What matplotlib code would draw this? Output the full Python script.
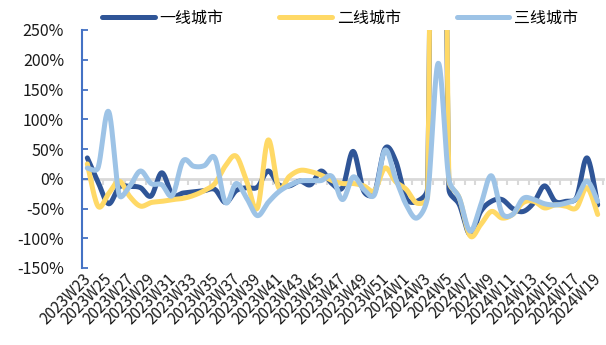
import numpy as np
import matplotlib.pyplot as plt

plt.rcParams['font.family'] = ['Noto Sans CJK SC', 'DejaVu Sans']

# 周次
weeks = [f'2023W{w}' for w in range(23, 53)] + [f'2024W{w}' for w in range(1, 20)]

# 同比增速（%）
tier1 = [35, -5, -42, -14, -13, -15, -29, 10, -27, -24,
         -22, -20, -18, -40, -20, -15, -14, 13, -10, -12,
         -4, -10, 13, -8, -15, 46, -21, -24, 51, 30,
         -33, -38, -15, 1700, -15, -44, -94, -55, -38, -35,
         -50, -55, -40, -12, -38, -38, -32, 35, -44]
tier2 = [25, -46, -25, -4, -30, -46, -40, -38, -35, -33,
         -28, -20, -8, 22, 38, -5, -49, 65, -15, 4,
         14, 12, 6, -3, -8, -8, -12, -20, 18, -5,
         -18, -41, -30, 1900, 0, -33, -96, -77, -55, -66,
         -60, -40, -38, -49, -44, -46, -49, -15, -60]
tier3 = [18, 18, 113, -27, -12, 13, -8, -10, -28, 30,
         21, 22, 35, -40, -8, -33, -62, -40, -22, -11,
         -4, -3, -3, 4, -35, 3, -18, -27, 48, 0,
         -44, -66, -30, 194, 0, -33, -88, -44, 5, -58,
         -60, -33, -35, -42, -44, -41, -33, -4, -38]

series = [('一线城市', tier1, '#2F5597'),
          ('二线城市', tier2, '#FFD966'),
          ('三线城市', tier3, '#9DC3E6')]


def smooth(y, kx=10.63, ky=0.596, n=24):
    """类似Excel平滑线：三次贝塞尔，控制柄不超过相邻段长的一半"""
    p = np.column_stack([np.arange(len(y)) * kx, np.asarray(y, float) * ky])
    m = len(p)
    t = np.linspace(0, 1, n)[1:, None]
    out = [p[:1]]
    for i in range(m - 1):
        p0, p1, p2, p3 = p[max(i - 1, 0)], p[i], p[i + 1], p[min(i + 2, m - 1)]
        seg = np.hypot(*(p2 - p1))
        a1 = (p2 - p0) / 6
        a2 = (p3 - p1) / 6
        for a in (a1, a2):
            ln = np.hypot(*a)
            if ln > seg / 2:
                a *= seg / 2 / ln
        c1, c2 = p1 + a1, p2 - a2
        b = ((1 - t) ** 3 * p1 + 3 * (1 - t) ** 2 * t * c1
             + 3 * (1 - t) * t ** 2 * c2 + t ** 3 * p2)
        out.append(b)
    q = np.vstack(out)
    return q[:, 0] / kx, q[:, 1] / ky


fig = plt.figure(figsize=(6.06, 3.45), dpi=100)
ax = fig.add_axes([82 / 606, 1 - 268 / 345, 521 / 606, 238 / 345])

for name, vals, color in series:
    xs, ys = smooth(vals)
    ax.plot(xs, ys, color=color, lw=3.6, label=name,
            solid_capstyle='round', solid_joinstyle='round')

ax.set_xlim(-0.5, len(weeks) - 0.5)
ax.set_ylim(-150, 250)
ax.set_yticks(range(-150, 251, 50))
ax.set_yticklabels([f'{v}%' for v in range(-150, 251, 50)])

ax.set_xticks(range(0, len(weeks), 2))
ax.set_xticklabels(weeks[::2], rotation=45, ha='right', va='center_baseline',
                   rotation_mode='anchor')

for s in ['top', 'right', 'bottom']:
    ax.spines[s].set_visible(False)
ax.spines['left'].set_color('#4472C4')
ax.spines['left'].set_linewidth(1.5)
ax.tick_params(axis='y', direction='in', length=4, width=1.3, color='#4472C4',
               labelsize=11.5, labelcolor='#1a1a1a', pad=13)
ax.tick_params(axis='x', length=0, labelsize=11, labelcolor='#1a1a1a', pad=5)

# 零轴（灰色，带刻度线）
zero = ax.secondary_xaxis(150 / 400)
zero.spines['bottom'].set_color('#D9D9D9')
zero.spines['bottom'].set_linewidth(2)
zero.set_xticks(np.arange(-0.5, len(weeks), 1))
zero.tick_params(axis='x', direction='out', length=4, width=1.5,
                 color='#D9D9D9', labelbottom=False)

fig.legend(loc='center', bbox_to_anchor=(340 / 606, 1 - 18 / 345), ncol=3,
           frameon=False, fontsize=11.5, handlelength=3.3, handletextpad=0.3,
           columnspacing=3.5)

fig.savefig('out.png', dpi=100)
